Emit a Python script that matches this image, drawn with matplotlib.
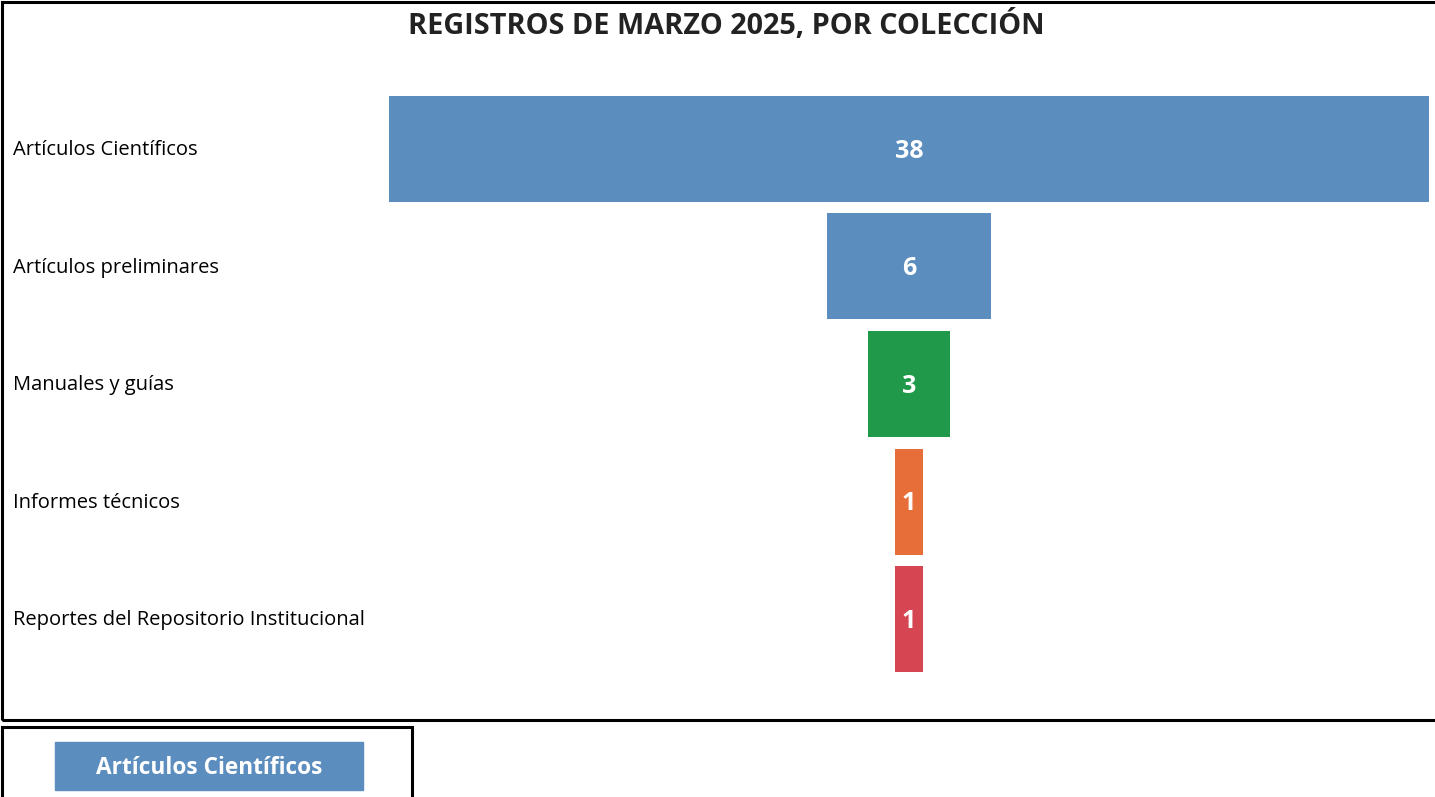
import matplotlib.pyplot as plt
from matplotlib.patches import Rectangle

categorias = ['Artículos Científicos', 'Artículos preliminares', 'Manuales y guías',
              'Informes técnicos', 'Reportes del Repositorio Institucional']
valores = [38, 6, 3, 1, 1]
colores = ['#5B8DBE', '#5B8DBE', '#20994B', '#E76D39', '#D64552']
titulo = 'REGISTROS DE MARZO 2025, POR COLECCIÓN'
leyenda = 'Artículos Científicos'

plt.rcParams['font.family'] = ['Open Sans', 'DejaVu Sans']

W, H = 1435, 797
fig = plt.figure(figsize=(W / 100, H / 100), dpi=100)


def fx(px):
    return px / W


def fy(py):
    return 1 - py / H


# marco exterior y marco de la leyenda
fig.patches.append(Rectangle((fx(2), fy(720)), fx(1440) - fx(2), fy(2) - fy(720),
                             transform=fig.transFigure, fill=False, lw=2.2, ec='black',
                             clip_on=False))
fig.patches.append(Rectangle((fx(2), fy(810)), fx(412) - fx(2), fy(727) - fy(810),
                             transform=fig.transFigure, fill=False, lw=2.2, ec='black',
                             clip_on=False))

fig.text(fx(726), fy(26), titulo, ha='center', va='center', fontsize=20.8,
         fontweight='bold', color='#222222')

# embudo
ax = fig.add_axes([fx(389), fy(678), fx(1429) - fx(389), fy(90) - fy(678)])
y = range(len(valores))
ax.barh(y, valores, left=[-v / 2 for v in valores], height=0.9, color=colores)
ax.set_xlim(-19, 19)
ax.set_ylim(len(valores) - 0.5, -0.5)
ax.axis('off')
for i, v in enumerate(valores):
    ax.text(0, i + 0.02, str(v), ha='center', va='center', color='white',
            fontsize=18, fontweight='bold')

for i, c in enumerate(categorias):
    fig.text(fx(13), fy(150 + 117.5 * i), c, ha='left', va='center', fontsize=14.5,
             color='black')

# leyenda
fig.patches.append(Rectangle((fx(55), fy(790)), fx(363) - fx(55), fy(742) - fy(790),
                             transform=fig.transFigure, color=colores[0]))
fig.text(fx(209), fy(768), leyenda, ha='center', va='center', fontsize=16.3,
         fontweight='bold', color='white')

fig.savefig('out.png', dpi=100)
